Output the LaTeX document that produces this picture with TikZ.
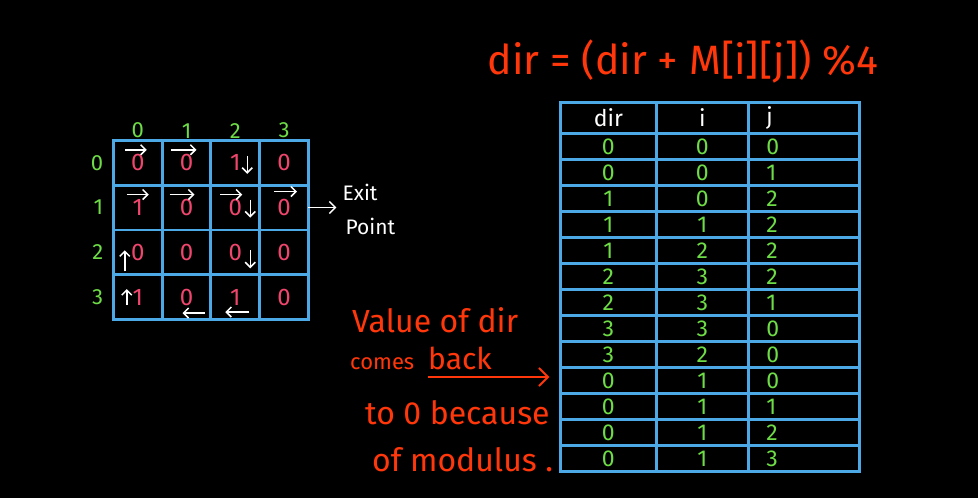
\documentclass[tikz,border=0pt]{standalone}
\usepackage{fontspec}
\setmainfont{Fira Sans}
\usepackage{tikz}
\usetikzlibrary{positioning,matrix,arrows.meta}
\usepackage{xcolor}
\definecolor{gridblue}{RGB}{77,168,230}
\definecolor{pinkc}{RGB}{240,70,110}
\definecolor{greenc}{RGB}{110,220,70}
\definecolor{orangec}{RGB}{255,55,10}

\begin{document}
\begin{tikzpicture}[x=1pt,y=1pt,
    lbl/.style={text=greenc,font=\fontsize{22}{22}\selectfont,inner sep=1pt},
    cellarrow/.style={white,line width=1.5pt,-{Straight Barb[length=5pt,width=10pt]}},
    note/.style={text=orangec,font=\fontsize{32}{32}\selectfont,inner sep=0pt},
    notearrow/.style={orangec,line width=2pt,-{Straight Barb[length=9pt,width=18pt]}}]
\path[use as bounding box,fill=black] (0,0) rectangle (978,-498);

% grid M
\matrix (m) at (112,-139) [matrix of nodes, anchor=north west, inner sep=0pt, outer sep=0pt,
    nodes={rectangle,draw=gridblue,line width=2.8pt,minimum width=48.75pt,minimum height=44.75pt,anchor=center,text=pinkc,font=\fontsize{24}{24}\selectfont},
    column sep=-2.8pt, row sep=-2.8pt]
{
0 & 0 & 1 & 0 \\
1 & 0 & 0 & 0 \\
0 & 0 & 0 & 0 \\
1 & 0 & 1 & 0 \\
};
\foreach \c in {1,...,4} {
  \pgfmathtruncatemacro\k{\c-1}
  \node[lbl, above=1pt of m-1-\c] (col\c) {\k};
  \node[lbl, left=9pt of m-\c-1] (row\c) {\k};
}

% path through the grid
\draw[cellarrow] ([xshift=-13pt,yshift=13pt]m-1-1.center) -- ++(22,0);
\draw[cellarrow] ([xshift=-16pt,yshift=13pt]m-1-2.center) -- ++(26,0);
\draw[cellarrow] ([xshift=12pt,yshift=7pt]m-1-3.center) -- ++(0,-18);
\draw[cellarrow] ([xshift=-11pt,yshift=13pt]m-2-1.center) -- ++(22,0);
\draw[cellarrow] ([xshift=-17pt,yshift=13pt]m-2-2.center) -- ++(25,0);
\draw[cellarrow] ([xshift=-15pt,yshift=13pt]m-2-3.center) -- ++(22,0);
\draw[cellarrow] ([xshift=15pt,yshift=8pt]m-2-3.center) -- ++(0,-18);
\draw[cellarrow] ([xshift=-10pt,yshift=16pt]m-2-4.center) -- ++(23,0);
\draw[cellarrow] ([xshift=-13pt,yshift=-19pt]m-3-1.center) -- ++(0,21);
\draw[cellarrow] ([xshift=15pt,yshift=2pt]m-3-3.center) -- ++(0,-18);
\draw[cellarrow] ([xshift=-11pt,yshift=-8pt]m-4-1.center) -- ++(0,16);
\draw[cellarrow] ([xshift=18pt,yshift=-16pt]m-4-2.center) -- ++(-22,0);
\draw[cellarrow] ([xshift=14pt,yshift=-15pt]m-4-3.center) -- ++(-24,0);

% exit
\draw[white,line width=1.5pt,-{Straight Barb[length=6pt,width=12pt]}] (m-2-4.east) -- ++(28,0) coordinate (exitend);
\node[text=white,font=\fontsize{21}{21}\selectfont,anchor=west,inner sep=0pt] (exit) at ([xshift=6pt,yshift=15pt]exitend) {Exit};
\node[text=white,font=\fontsize{21}{21}\selectfont,anchor=north west,inner sep=0pt] (point) at ([xshift=3pt,yshift=-17pt]exit.south west) {Point};

% rule
\node[text=orangec,font=\fontsize{41}{41}\selectfont] (rule) at (683,-62) {dir = (dir + M[i][j]) \%4};

% trace table
\matrix (tab) at (559,-101) [matrix of nodes, anchor=north west, inner sep=0pt, outer sep=0pt,
    nodes={rectangle,draw=gridblue,line width=2.8pt,minimum height=26pt,inner ysep=1pt,anchor=center,text=greenc,font=\fontsize{23}{23}\selectfont},
    column sep=-2.8pt, row sep=-2.8pt,
    column 1/.style={nodes={minimum width=96pt}},
    column 2/.style={nodes={minimum width=92pt}},
    column 3/.style={nodes={text width=75pt,inner xsep=18pt,align=left}},
    row 1/.style={nodes={minimum height=31pt,text=white}}]
{
dir & i & j \\
0 & 0 & 0 \\
0 & 0 & 1 \\
1 & 0 & 2 \\
1 & 1 & 2 \\
1 & 2 & 2 \\
2 & 3 & 2 \\
2 & 3 & 1 \\
3 & 3 & 0 \\
3 & 2 & 0 \\
0 & 1 & 0 \\
0 & 1 & 1 \\
0 & 1 & 2 \\
0 & 1 & 3 \\
};

% note
\node[note, anchor=west] (value) at (352,-320) {Value of dir};
\node[note, anchor=base west, font=\fontsize{22}{22}\selectfont] (comes) at (350,-369) {comes};
\node[note, anchor=base west, font=\fontsize{30}{30}\selectfont] (back) at (428,-369) {back};
\node[note, anchor=west] (because) at (365,-413) {to 0 because};
\node[note, anchor=west] (modulus) at (372,-460) {of modulus .};
\coordinate (underline) at ([yshift=-8pt]back.base west);
\draw[notearrow, shorten >=11pt] (underline) -- (underline -| tab-11-1.west);
\end{tikzpicture}
\end{document}
